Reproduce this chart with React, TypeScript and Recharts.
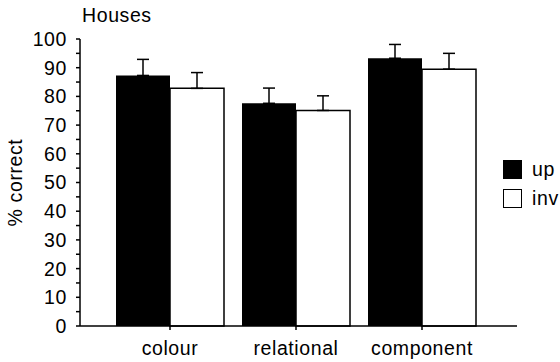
import React from "react";
import { BarChart, Bar, XAxis, YAxis, ErrorBar, Legend } from "recharts";

const categories = ["colour", "relational", "component"];
const upValues = [87.3, 77.6, 93.3];
const invertedValues = [82.8, 75.1, 89.5];
const upErrors = [5.6, 5.3, 4.8];
const invertedErrors = [5.5, 5.1, 5.5];
const yTicks = [0, 5, 10, 15, 20, 25, 30, 35, 40, 45, 50, 55, 60, 65, 70, 75, 80, 85, 90, 95, 100];

const FONT = '"Liberation Sans", Arial, Helvetica, sans-serif';
const textStyle = { fontFamily: FONT, fontSize: 19.5, letterSpacing: 0.6, fill: "#000" };

const data = categories.map((category, i) => ({
  category,
  up: upValues[i],
  inverted: invertedValues[i],
  // only the upper whisker is drawn
  upErr: [0, upErrors[i]],
  invertedErr: [0, invertedErrors[i]],
}));

const legendItems = [
  { label: "up", fill: "#000" },
  { label: "inv", fill: "#fff" },
];

function YTick(props: any) {
  const { x, y, payload } = props;
  if (payload.value % 10 !== 0) return null;
  return (
    <text x={x} y={y} dy="0.355em" textAnchor="end" style={textStyle}>
      {payload.value}
    </text>
  );
}

function YLabel(props: any) {
  const { viewBox } = props;
  const cx = 15;
  const cy = viewBox.y + viewBox.height / 2;
  return (
    <text
      x={cx}
      y={cy}
      textAnchor="middle"
      dominantBaseline="central"
      transform={`rotate(-90, ${cx}, ${cy})`}
      style={textStyle}
    >
      % correct
    </text>
  );
}

function LegendBox() {
  return (
    <div style={{ fontFamily: FONT, fontSize: 19.5, letterSpacing: 0.6, color: "#000" }}>
      {legendItems.map((item) => (
        <div key={item.label} style={{ display: "flex", alignItems: "center", height: 29, whiteSpace: "nowrap" }}>
          <span
            style={{
              display: "inline-block",
              flexShrink: 0,
              boxSizing: "border-box",
              width: 19,
              height: 19,
              background: item.fill,
              border: "1.5px solid #000",
              marginRight: 10,
            }}
          />
          <span>{item.label}</span>
        </div>
      ))}
    </div>
  );
}

export default function App() {
  return (
    <div style={{ position: "absolute", left: 0, top: 0, width: 560, height: 362, background: "#fff", overflow: "hidden" }}>
      <div style={{ position: "absolute", left: 82, top: 3, fontFamily: FONT, fontSize: 19.5, letterSpacing: 0.6, color: "#000", lineHeight: "24px" }}>
        Houses
      </div>
      <BarChart
        width={560}
        height={362}
        data={data}
        margin={{ top: 39, right: 43, left: 0, bottom: 0 }}
        barGap={0}
        barSize={54}
      >
        <XAxis
          dataKey="category"
          type="category"
          padding={{ left: 27, right: 32 }}
          height={36}
          tickSize={4}
          tickMargin={11}
          tick={textStyle}
          axisLine={{ stroke: "#000", strokeWidth: 1.5 }}
          tickLine={{ stroke: "#000", strokeWidth: 1.5 }}
        />
        <YAxis
          domain={[0, 100]}
          ticks={yTicks}
          interval={0}
          width={80}
          tickSize={4}
          tickMargin={9}
          tick={<YTick />}
          axisLine={{ stroke: "#000", strokeWidth: 1.5 }}
          tickLine={{ stroke: "#000", strokeWidth: 1.5 }}
          label={<YLabel />}
        />
        <Legend
          layout="horizontal"
          verticalAlign="middle"
          align="center"
          content={<LegendBox />}
          wrapperStyle={{ left: 503, top: 155, width: 57 }}
        />
        <Bar dataKey="up" name="up" fill="#000" isAnimationActive={false}>
          <ErrorBar dataKey="upErr" direction="y" width={6} stroke="#000" strokeWidth={1.5} isAnimationActive={false} />
        </Bar>
        <Bar dataKey="inverted" name="inv" fill="#fff" stroke="#000" strokeWidth={1.5} isAnimationActive={false}>
          <ErrorBar dataKey="invertedErr" direction="y" width={6} stroke="#000" strokeWidth={1.5} isAnimationActive={false} />
        </Bar>
      </BarChart>
    </div>
  );
}
